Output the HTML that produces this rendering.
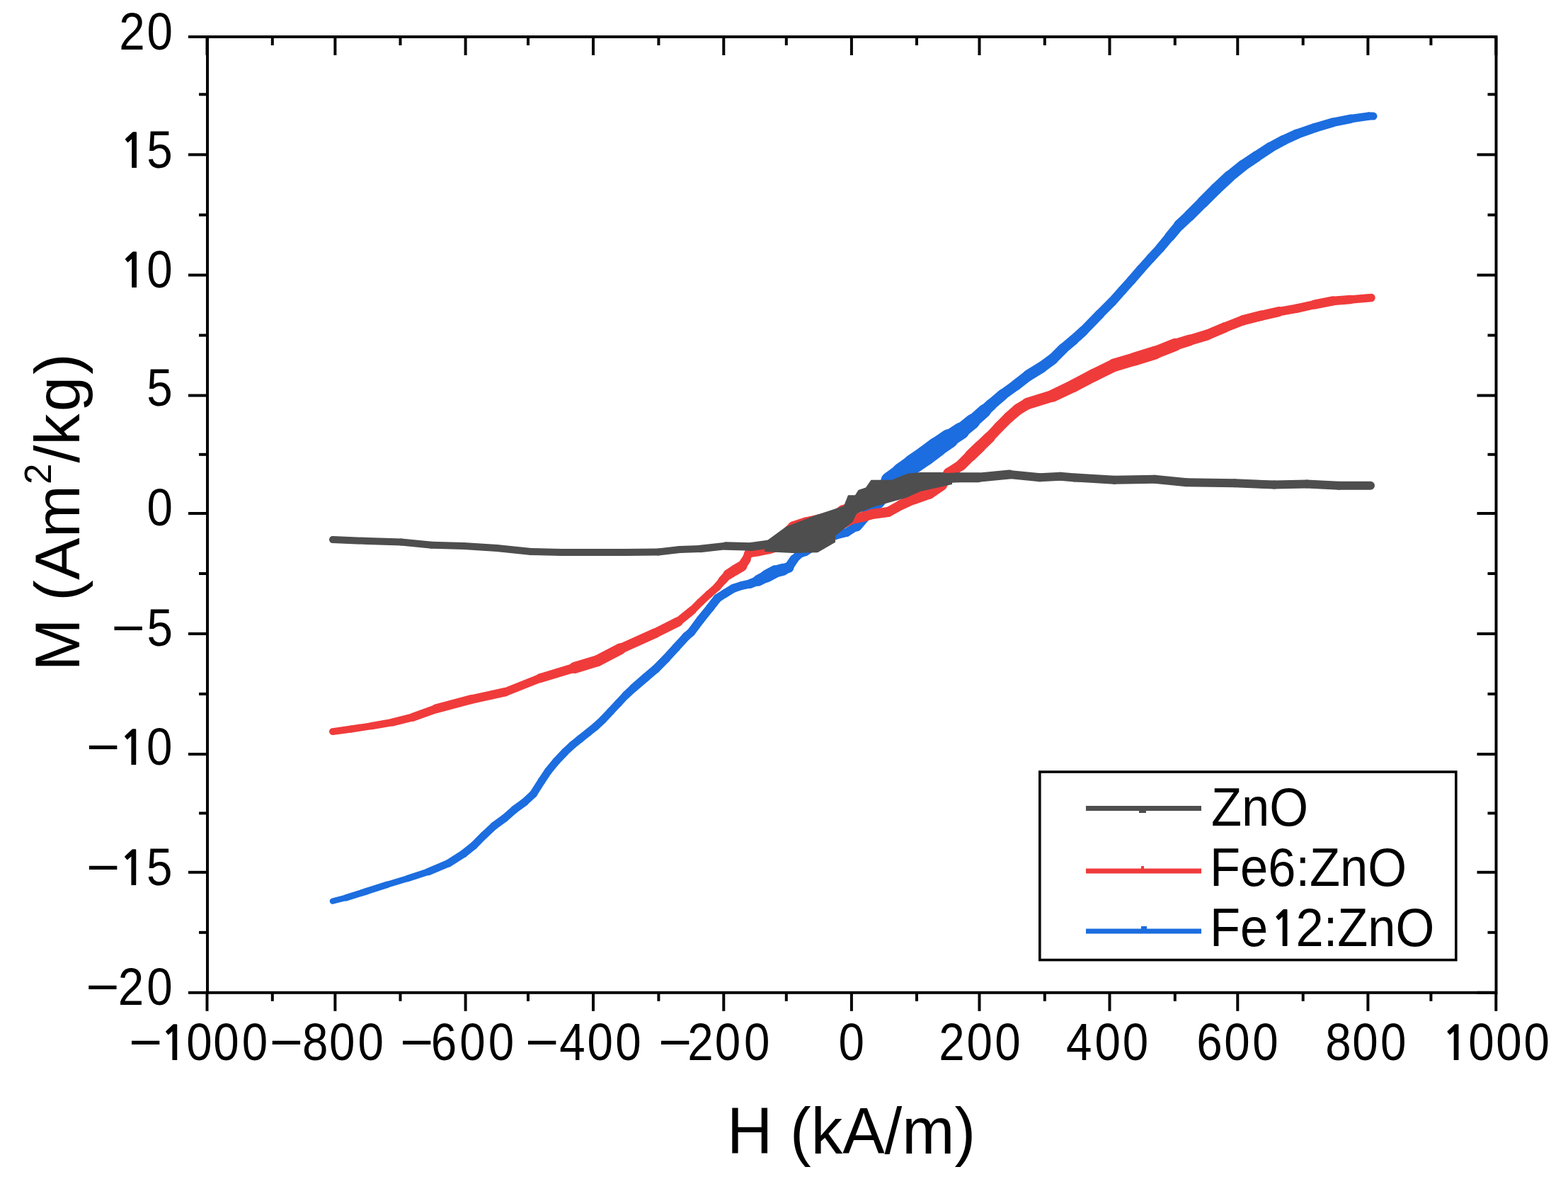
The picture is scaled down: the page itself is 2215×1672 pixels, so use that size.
<!DOCTYPE html>
<html><head><meta charset="utf-8"><title>M-H curves</title><style>html,body{margin:0;padding:0;background:#fff;}svg{display:block;}</style></head><body>
<svg xmlns="http://www.w3.org/2000/svg" width="2215" height="1672" viewBox="0 0 2215 1672">
<rect width="2215" height="1672" fill="#fff"/>
<g stroke="#1c6ddf" stroke-linecap="round" fill="none"><line x1="470.0" y1="1272.5" x2="489.0" y2="1267.7" stroke-width="8.5"/><line x1="489.0" y1="1267.7" x2="518.0" y2="1258.6" stroke-width="9.5"/><line x1="518.0" y1="1258.6" x2="547.0" y2="1249.2" stroke-width="9.5"/><line x1="547.0" y1="1249.2" x2="576.0" y2="1240.5" stroke-width="9.0"/><line x1="576.0" y1="1240.5" x2="605.0" y2="1231.1" stroke-width="9.5"/><line x1="605.0" y1="1231.1" x2="634.0" y2="1218.9" stroke-width="10.5"/><line x1="634.0" y1="1218.9" x2="654.8" y2="1205.6" stroke-width="11.0"/><line x1="654.8" y1="1205.6" x2="669.2" y2="1194.1" stroke-width="11.0"/><line x1="669.2" y1="1194.1" x2="683.5" y2="1179.7" stroke-width="11.0"/><line x1="683.5" y1="1179.7" x2="697.9" y2="1166.3" stroke-width="11.0"/><line x1="697.9" y1="1166.3" x2="712.3" y2="1155.8" stroke-width="11.0"/><line x1="712.3" y1="1155.8" x2="726.6" y2="1143.3" stroke-width="11.0"/><line x1="726.6" y1="1143.3" x2="741.0" y2="1132.8" stroke-width="11.0"/><line x1="741.0" y1="1132.8" x2="753.4" y2="1121.3" stroke-width="11.0"/><line x1="753.4" y1="1121.3" x2="764.9" y2="1103.1" stroke-width="11.0"/><line x1="764.9" y1="1103.1" x2="774.5" y2="1088.7" stroke-width="11.0"/><line x1="774.5" y1="1088.7" x2="785.8" y2="1075.0" stroke-width="11.0"/><line x1="785.8" y1="1075.0" x2="798.0" y2="1062.1" stroke-width="11.0"/><line x1="798.0" y1="1062.1" x2="808.8" y2="1052.0" stroke-width="11.0"/><line x1="808.8" y1="1052.0" x2="819.5" y2="1043.4" stroke-width="11.0"/><line x1="819.5" y1="1043.4" x2="830.3" y2="1034.8" stroke-width="11.0"/><line x1="830.3" y1="1034.8" x2="841.1" y2="1026.1" stroke-width="11.0"/><line x1="841.1" y1="1026.1" x2="851.9" y2="1016.1" stroke-width="11.0"/><line x1="851.9" y1="1016.1" x2="862.7" y2="1004.6" stroke-width="11.0"/><line x1="862.7" y1="1004.6" x2="873.5" y2="993.1" stroke-width="11.0"/><line x1="873.5" y1="993.1" x2="884.2" y2="981.6" stroke-width="11.0"/><line x1="884.2" y1="981.6" x2="895.0" y2="971.5" stroke-width="11.5"/><line x1="895.0" y1="971.5" x2="911.9" y2="956.9" stroke-width="12.0"/><line x1="911.9" y1="956.9" x2="926.3" y2="944.7" stroke-width="12.0"/><line x1="926.3" y1="944.7" x2="940.6" y2="930.3" stroke-width="12.0"/><line x1="940.6" y1="930.3" x2="955.0" y2="914.5" stroke-width="12.0"/><line x1="955.0" y1="914.5" x2="969.4" y2="898.7" stroke-width="12.0"/><line x1="969.4" y1="898.7" x2="976.2" y2="893.0" stroke-width="12.0"/><line x1="976.2" y1="893.0" x2="989.5" y2="875.1" stroke-width="12.0"/><line x1="989.5" y1="875.1" x2="1002.7" y2="858.8" stroke-width="12.0"/><line x1="1002.7" y1="858.8" x2="1013.6" y2="844.8" stroke-width="12.0"/><line x1="1013.6" y1="844.8" x2="1024.5" y2="837.8" stroke-width="12.0"/><line x1="1024.5" y1="837.8" x2="1036.2" y2="830.7" stroke-width="12.0"/><line x1="1036.2" y1="830.7" x2="1047.9" y2="826.9" stroke-width="12.0"/><line x1="1047.9" y1="826.9" x2="1059.6" y2="824.5" stroke-width="12.0"/><line x1="1059.6" y1="824.5" x2="1071.2" y2="819.8" stroke-width="13.0"/><line x1="1071.2" y1="819.8" x2="1082.9" y2="813.6" stroke-width="16.0"/><line x1="1082.9" y1="813.6" x2="1094.6" y2="807.4" stroke-width="18.0"/><line x1="1094.6" y1="807.4" x2="1106.3" y2="804.3" stroke-width="17.0"/><line x1="1106.3" y1="804.3" x2="1114.1" y2="801.2" stroke-width="15.0"/><line x1="1114.1" y1="801.2" x2="1121.9" y2="789.5" stroke-width="13.0"/><line x1="1121.9" y1="789.5" x2="1130.0" y2="781.7" stroke-width="12.0"/><line x1="1130.0" y1="781.7" x2="1138.0" y2="779.0" stroke-width="12.0"/><line x1="1138.0" y1="779.0" x2="1158.0" y2="766.0" stroke-width="12.0"/><line x1="1158.0" y1="766.0" x2="1180.0" y2="756.0" stroke-width="12.0"/><line x1="1180.0" y1="756.0" x2="1196.0" y2="752.0" stroke-width="12.0"/><line x1="1196.0" y1="752.0" x2="1210.0" y2="743.0" stroke-width="12.0"/><line x1="1210.0" y1="743.0" x2="1240.0" y2="708.0" stroke-width="15.0"/><line x1="1240.0" y1="708.0" x2="1256.8" y2="679.0" stroke-width="21.0"/><line x1="1256.8" y1="679.0" x2="1273.5" y2="667.0" stroke-width="25.0"/><line x1="1273.5" y1="667.0" x2="1290.3" y2="655.0" stroke-width="27.0"/><line x1="1290.3" y1="655.0" x2="1307.1" y2="643.5" stroke-width="28.0"/><line x1="1307.1" y1="643.5" x2="1323.8" y2="631.0" stroke-width="28.0"/><line x1="1323.8" y1="631.0" x2="1340.6" y2="619.5" stroke-width="27.0"/><line x1="1340.6" y1="619.5" x2="1357.4" y2="608.5" stroke-width="24.0"/><line x1="1357.4" y1="608.5" x2="1374.1" y2="595.0" stroke-width="21.0"/><line x1="1374.1" y1="595.0" x2="1390.9" y2="580.0" stroke-width="18.5"/><line x1="1390.9" y1="580.0" x2="1400.0" y2="571.5" stroke-width="16.5"/><line x1="1400.0" y1="571.5" x2="1416.9" y2="557.0" stroke-width="15.5"/><line x1="1416.9" y1="557.0" x2="1434.9" y2="544.0" stroke-width="15.0"/><line x1="1434.9" y1="544.0" x2="1452.9" y2="530.0" stroke-width="15.5"/><line x1="1452.9" y1="530.0" x2="1470.8" y2="519.0" stroke-width="16.0"/><line x1="1470.8" y1="519.0" x2="1487.2" y2="507.0" stroke-width="15.5"/><line x1="1487.2" y1="507.0" x2="1501.7" y2="492.5" stroke-width="15.0"/><line x1="1501.7" y1="492.5" x2="1516.2" y2="480.3" stroke-width="14.5"/><line x1="1516.2" y1="480.3" x2="1530.6" y2="467.2" stroke-width="14.0"/><line x1="1530.6" y1="467.2" x2="1553.5" y2="443.7" stroke-width="13.5"/><line x1="1553.5" y1="443.7" x2="1571.4" y2="425.7" stroke-width="13.0"/><line x1="1571.4" y1="425.7" x2="1584.9" y2="410.5" stroke-width="13.0"/><line x1="1584.9" y1="410.5" x2="1598.4" y2="395.5" stroke-width="13.0"/><line x1="1598.4" y1="395.5" x2="1611.8" y2="380.0" stroke-width="13.0"/><line x1="1611.8" y1="380.0" x2="1625.3" y2="365.0" stroke-width="13.0"/><line x1="1625.3" y1="365.0" x2="1638.8" y2="350.3" stroke-width="13.0"/><line x1="1638.8" y1="350.3" x2="1652.3" y2="334.1" stroke-width="13.5"/><line x1="1652.3" y1="334.1" x2="1665.7" y2="318.0" stroke-width="14.5"/><line x1="1665.7" y1="318.0" x2="1680.0" y2="304.6" stroke-width="15.5"/><line x1="1680.0" y1="304.6" x2="1699.0" y2="285.6" stroke-width="16.0"/><line x1="1699.0" y1="285.6" x2="1718.0" y2="266.6" stroke-width="16.5"/><line x1="1718.0" y1="266.6" x2="1737.0" y2="248.9" stroke-width="16.5"/><line x1="1737.0" y1="248.9" x2="1755.9" y2="233.7" stroke-width="16.0"/><line x1="1755.9" y1="233.7" x2="1774.9" y2="221.0" stroke-width="15.5"/><line x1="1774.9" y1="221.0" x2="1793.9" y2="208.4" stroke-width="15.0"/><line x1="1793.9" y1="208.4" x2="1812.9" y2="198.2" stroke-width="14.5"/><line x1="1812.9" y1="198.2" x2="1831.9" y2="189.4" stroke-width="14.0"/><line x1="1831.9" y1="189.4" x2="1857.2" y2="180.5" stroke-width="13.5"/><line x1="1857.2" y1="180.5" x2="1882.5" y2="172.9" stroke-width="13.0"/><line x1="1882.5" y1="172.9" x2="1907.8" y2="167.8" stroke-width="12.5"/><line x1="1907.8" y1="167.8" x2="1933.2" y2="164.1" stroke-width="11.5"/><line x1="1933.2" y1="164.1" x2="1940.0" y2="164.1" stroke-width="11.0"/></g>
<g stroke="#f03b3b" stroke-linecap="round" fill="none"><line x1="1090.0" y1="775.0" x2="1150.0" y2="755.0" stroke-width="12.5"/><line x1="1150.0" y1="755.0" x2="1180.0" y2="745.0" stroke-width="13.0"/><line x1="1180.0" y1="745.0" x2="1204.5" y2="733.0" stroke-width="13.5"/><line x1="1204.5" y1="733.0" x2="1218.8" y2="730.0" stroke-width="14.0"/><line x1="1218.8" y1="730.0" x2="1232.3" y2="726.0" stroke-width="14.0"/><line x1="1232.3" y1="726.0" x2="1254.8" y2="723.0" stroke-width="14.0"/><line x1="1254.8" y1="723.0" x2="1272.7" y2="713.0" stroke-width="14.0"/><line x1="1272.7" y1="713.0" x2="1290.0" y2="705.0" stroke-width="14.5"/><line x1="1290.0" y1="705.0" x2="1312.5" y2="697.0" stroke-width="15.5"/><line x1="1312.5" y1="697.0" x2="1330.0" y2="685.0" stroke-width="16.0"/><line x1="1330.0" y1="685.0" x2="1340.3" y2="668.0" stroke-width="15.5"/><line x1="1340.3" y1="668.0" x2="1357.4" y2="657.0" stroke-width="15.0"/><line x1="1357.4" y1="657.0" x2="1370.8" y2="643.5" stroke-width="15.5"/><line x1="1370.8" y1="643.5" x2="1384.3" y2="630.5" stroke-width="16.5"/><line x1="1384.3" y1="630.5" x2="1397.8" y2="617.5" stroke-width="16.0"/><line x1="1397.8" y1="617.5" x2="1411.2" y2="603.1" stroke-width="15.0"/><line x1="1411.2" y1="603.1" x2="1424.7" y2="589.6" stroke-width="15.0"/><line x1="1424.7" y1="589.6" x2="1438.2" y2="578.0" stroke-width="15.5"/><line x1="1438.2" y1="578.0" x2="1451.7" y2="569.9" stroke-width="16.0"/><line x1="1451.7" y1="569.9" x2="1487.2" y2="558.8" stroke-width="16.5"/><line x1="1487.2" y1="558.8" x2="1516.2" y2="545.0" stroke-width="17.5"/><line x1="1516.2" y1="545.0" x2="1545.1" y2="529.8" stroke-width="18.0"/><line x1="1545.1" y1="529.8" x2="1574.0" y2="515.7" stroke-width="18.0"/><line x1="1574.0" y1="515.7" x2="1603.0" y2="507.0" stroke-width="18.5"/><line x1="1603.0" y1="507.0" x2="1631.9" y2="498.0" stroke-width="19.0"/><line x1="1631.9" y1="498.0" x2="1660.5" y2="486.7" stroke-width="18.0"/><line x1="1660.5" y1="486.7" x2="1680.0" y2="480.6" stroke-width="16.0"/><line x1="1680.0" y1="480.6" x2="1705.3" y2="473.0" stroke-width="15.0"/><line x1="1705.3" y1="473.0" x2="1730.6" y2="462.3" stroke-width="14.5"/><line x1="1730.6" y1="462.3" x2="1755.9" y2="452.2" stroke-width="14.0"/><line x1="1755.9" y1="452.2" x2="1781.3" y2="445.8" stroke-width="14.5"/><line x1="1781.3" y1="445.8" x2="1806.6" y2="440.1" stroke-width="14.0"/><line x1="1806.6" y1="440.1" x2="1831.9" y2="435.7" stroke-width="12.5"/><line x1="1831.9" y1="435.7" x2="1857.2" y2="430.0" stroke-width="12.5"/><line x1="1857.2" y1="430.0" x2="1882.5" y2="425.0" stroke-width="13.5"/><line x1="1882.5" y1="425.0" x2="1907.8" y2="423.0" stroke-width="12.5"/><line x1="1907.8" y1="423.0" x2="1937.0" y2="420.5" stroke-width="11.5"/></g>
<g stroke="#f03b3b" stroke-linecap="round" fill="none"><line x1="470.0" y1="1033.1" x2="496.2" y2="1029.5" stroke-width="10.0"/><line x1="496.2" y1="1029.5" x2="525.1" y2="1025.1" stroke-width="10.0"/><line x1="525.1" y1="1025.1" x2="554.0" y2="1020.1" stroke-width="10.5"/><line x1="554.0" y1="1020.1" x2="583.0" y2="1012.8" stroke-width="11.0"/><line x1="583.0" y1="1012.8" x2="616.3" y2="1000.8" stroke-width="12.0"/><line x1="616.3" y1="1000.8" x2="665.1" y2="987.8" stroke-width="13.0"/><line x1="665.1" y1="987.8" x2="713.9" y2="977.2" stroke-width="12.5"/><line x1="713.9" y1="977.2" x2="762.8" y2="957.7" stroke-width="12.0"/><line x1="762.8" y1="957.7" x2="811.6" y2="943.0" stroke-width="13.0"/><line x1="811.6" y1="943.0" x2="844.1" y2="933.2" stroke-width="16.0"/><line x1="844.1" y1="933.2" x2="876.7" y2="916.2" stroke-width="16.0"/><line x1="876.7" y1="916.2" x2="925.5" y2="894.2" stroke-width="14.0"/><line x1="925.5" y1="894.2" x2="958.1" y2="877.9" stroke-width="13.5"/><line x1="958.1" y1="877.9" x2="977.8" y2="861.9" stroke-width="12.0"/><line x1="977.8" y1="861.9" x2="989.5" y2="850.2" stroke-width="11.0"/><line x1="989.5" y1="850.2" x2="1001.2" y2="839.3" stroke-width="11.0"/><line x1="1001.2" y1="839.3" x2="1012.8" y2="829.2" stroke-width="11.0"/><line x1="1012.8" y1="829.2" x2="1020.6" y2="819.8" stroke-width="11.5"/><line x1="1020.6" y1="819.8" x2="1028.4" y2="811.3" stroke-width="12.5"/><line x1="1028.4" y1="811.3" x2="1038.5" y2="805.0" stroke-width="14.5"/><line x1="1038.5" y1="805.0" x2="1047.9" y2="799.6" stroke-width="15.0"/><line x1="1047.9" y1="799.6" x2="1054.1" y2="790.2" stroke-width="13.0"/><line x1="1054.1" y1="790.2" x2="1057.2" y2="781.7" stroke-width="12.0"/><line x1="1057.2" y1="781.7" x2="1071.2" y2="779.3" stroke-width="12.0"/><line x1="1071.2" y1="779.3" x2="1086.8" y2="776.2" stroke-width="12.0"/><line x1="1086.8" y1="776.2" x2="1095.0" y2="772.0" stroke-width="12.0"/><line x1="1095.0" y1="772.0" x2="1105.0" y2="758.0" stroke-width="12.5"/><line x1="1105.0" y1="758.0" x2="1120.0" y2="743.0" stroke-width="13.0"/><line x1="1120.0" y1="743.0" x2="1138.0" y2="737.0" stroke-width="13.0"/><line x1="1138.0" y1="737.0" x2="1156.0" y2="733.0" stroke-width="13.0"/><line x1="1156.0" y1="733.0" x2="1177.5" y2="729.0" stroke-width="13.0"/><line x1="1177.5" y1="729.0" x2="1190.0" y2="720.0" stroke-width="13.0"/><line x1="1190.0" y1="720.0" x2="1215.0" y2="712.0" stroke-width="13.0"/></g>
<g stroke="#4e4e4e" stroke-linecap="round" fill="none"><line x1="470.0" y1="762.0" x2="519.0" y2="764.0" stroke-width="10.0"/><line x1="519.0" y1="764.0" x2="567.0" y2="765.5" stroke-width="10.0"/><line x1="567.0" y1="765.5" x2="610.0" y2="769.7" stroke-width="10.0"/><line x1="610.0" y1="769.7" x2="655.0" y2="771.0" stroke-width="10.0"/><line x1="655.0" y1="771.0" x2="702.0" y2="774.0" stroke-width="10.0"/><line x1="702.0" y1="774.0" x2="750.0" y2="779.0" stroke-width="10.0"/><line x1="750.0" y1="779.0" x2="793.0" y2="780.0" stroke-width="10.0"/><line x1="793.0" y1="780.0" x2="838.0" y2="780.0" stroke-width="10.0"/><line x1="838.0" y1="780.0" x2="883.0" y2="780.0" stroke-width="10.0"/><line x1="883.0" y1="780.0" x2="930.0" y2="779.5" stroke-width="10.0"/><line x1="930.0" y1="779.5" x2="960.0" y2="776.0" stroke-width="10.0"/><line x1="960.0" y1="776.0" x2="989.0" y2="775.0" stroke-width="10.0"/><line x1="989.0" y1="775.0" x2="1025.0" y2="771.0" stroke-width="10.5"/><line x1="1025.0" y1="771.0" x2="1061.0" y2="772.0" stroke-width="11.5"/><line x1="1061.0" y1="772.0" x2="1090.0" y2="768.0" stroke-width="12.0"/><line x1="1090.0" y1="768.0" x2="1120.0" y2="764.0" stroke-width="12.0"/></g>
<g stroke="#4e4e4e" stroke-linecap="round" fill="none"><line x1="1290.0" y1="678.0" x2="1325.0" y2="675.7" stroke-width="14.0"/><line x1="1325.0" y1="675.7" x2="1354.0" y2="674.3" stroke-width="14.0"/><line x1="1354.0" y1="674.3" x2="1382.0" y2="674.3" stroke-width="14.0"/><line x1="1382.0" y1="674.3" x2="1426.0" y2="670.0" stroke-width="13.0"/><line x1="1426.0" y1="670.0" x2="1469.0" y2="674.3" stroke-width="12.0"/><line x1="1469.0" y1="674.3" x2="1498.0" y2="672.8" stroke-width="12.0"/><line x1="1498.0" y1="672.8" x2="1518.0" y2="674.4" stroke-width="12.0"/><line x1="1518.0" y1="674.4" x2="1574.0" y2="677.8" stroke-width="12.0"/><line x1="1574.0" y1="677.8" x2="1631.0" y2="676.7" stroke-width="12.0"/><line x1="1631.0" y1="676.7" x2="1676.0" y2="681.2" stroke-width="12.0"/><line x1="1676.0" y1="681.2" x2="1744.0" y2="682.3" stroke-width="12.0"/><line x1="1744.0" y1="682.3" x2="1800.0" y2="684.6" stroke-width="12.0"/><line x1="1800.0" y1="684.6" x2="1846.0" y2="683.4" stroke-width="12.0"/><line x1="1846.0" y1="683.4" x2="1891.0" y2="685.7" stroke-width="12.0"/><line x1="1891.0" y1="685.7" x2="1936.0" y2="685.7" stroke-width="12.0"/></g>
<polygon fill="#4e4e4e" points="1080,766 1110,744 1151,728 1192,714.6 1198,699.3 1208,699.3 1212.5,692 1223,688.5 1230.5,677.7 1260,677.7 1282,668.8 1300,667 1330,667 1345,669 1345,684 1300,693.9 1280,702.9 1261,708.3 1232,716.4 1210,725.4 1204.5,737 1180,756.8 1180,765.8 1155,780.2 1120,781 1080,779"/>
<g stroke="#000" stroke-width="4.0" fill="none" stroke-linecap="square">
<rect x="293.0" y="52.0" width="1820.5" height="1349.8"/>
</g>
<g stroke="#000" stroke-width="4.0">
<line x1="292.5" y1="1401.8" x2="292.5" y2="1427.8"/>
<line x1="292.5" y1="52.0" x2="292.5" y2="78.0"/>
<line x1="384.8" y1="1401.8" x2="384.8" y2="1413.8"/>
<line x1="384.8" y1="52.0" x2="384.8" y2="64.0"/>
<line x1="473.4" y1="1401.8" x2="473.4" y2="1427.8"/>
<line x1="473.4" y1="52.0" x2="473.4" y2="78.0"/>
<line x1="565.5" y1="1401.8" x2="565.5" y2="1413.8"/>
<line x1="565.5" y1="52.0" x2="565.5" y2="64.0"/>
<line x1="657.6" y1="1401.8" x2="657.6" y2="1427.8"/>
<line x1="657.6" y1="52.0" x2="657.6" y2="78.0"/>
<line x1="746.0" y1="1401.8" x2="746.0" y2="1413.8"/>
<line x1="746.0" y1="52.0" x2="746.0" y2="64.0"/>
<line x1="838.0" y1="1401.8" x2="838.0" y2="1427.8"/>
<line x1="838.0" y1="52.0" x2="838.0" y2="78.0"/>
<line x1="930.4" y1="1401.8" x2="930.4" y2="1413.8"/>
<line x1="930.4" y1="52.0" x2="930.4" y2="64.0"/>
<line x1="1022.3" y1="1401.8" x2="1022.3" y2="1427.8"/>
<line x1="1022.3" y1="52.0" x2="1022.3" y2="78.0"/>
<line x1="1110.8" y1="1401.8" x2="1110.8" y2="1413.8"/>
<line x1="1110.8" y1="52.0" x2="1110.8" y2="64.0"/>
<line x1="1202.9" y1="1401.8" x2="1202.9" y2="1427.8"/>
<line x1="1202.9" y1="52.0" x2="1202.9" y2="78.0"/>
<line x1="1295.0" y1="1401.8" x2="1295.0" y2="1413.8"/>
<line x1="1295.0" y1="52.0" x2="1295.0" y2="64.0"/>
<line x1="1383.5" y1="1401.8" x2="1383.5" y2="1427.8"/>
<line x1="1383.5" y1="52.0" x2="1383.5" y2="78.0"/>
<line x1="1475.8" y1="1401.8" x2="1475.8" y2="1413.8"/>
<line x1="1475.8" y1="52.0" x2="1475.8" y2="64.0"/>
<line x1="1567.5" y1="1401.8" x2="1567.5" y2="1427.8"/>
<line x1="1567.5" y1="52.0" x2="1567.5" y2="78.0"/>
<line x1="1659.8" y1="1401.8" x2="1659.8" y2="1413.8"/>
<line x1="1659.8" y1="52.0" x2="1659.8" y2="64.0"/>
<line x1="1748.3" y1="1401.8" x2="1748.3" y2="1427.8"/>
<line x1="1748.3" y1="52.0" x2="1748.3" y2="78.0"/>
<line x1="1840.7" y1="1401.8" x2="1840.7" y2="1413.8"/>
<line x1="1840.7" y1="52.0" x2="1840.7" y2="64.0"/>
<line x1="1932.4" y1="1401.8" x2="1932.4" y2="1427.8"/>
<line x1="1932.4" y1="52.0" x2="1932.4" y2="78.0"/>
<line x1="2021.4" y1="1401.8" x2="2021.4" y2="1413.8"/>
<line x1="2021.4" y1="52.0" x2="2021.4" y2="64.0"/>
<line x1="2113.3" y1="1401.8" x2="2113.3" y2="1427.8"/>
<line x1="2113.3" y1="52.0" x2="2113.3" y2="78.0"/>
<line x1="293.0" y1="52.0" x2="266.0" y2="52.0"/>
<line x1="2113.5" y1="52.0" x2="2086.5" y2="52.0"/>
<line x1="293.0" y1="133.3" x2="281.0" y2="133.3"/>
<line x1="2113.5" y1="133.3" x2="2101.5" y2="133.3"/>
<line x1="293.0" y1="218.4" x2="266.0" y2="218.4"/>
<line x1="2113.5" y1="218.4" x2="2086.5" y2="218.4"/>
<line x1="293.0" y1="303.5" x2="281.0" y2="303.5"/>
<line x1="2113.5" y1="303.5" x2="2101.5" y2="303.5"/>
<line x1="293.0" y1="388.5" x2="266.0" y2="388.5"/>
<line x1="2113.5" y1="388.5" x2="2086.5" y2="388.5"/>
<line x1="293.0" y1="473.5" x2="281.0" y2="473.5"/>
<line x1="2113.5" y1="473.5" x2="2101.5" y2="473.5"/>
<line x1="293.0" y1="558.5" x2="266.0" y2="558.5"/>
<line x1="2113.5" y1="558.5" x2="2086.5" y2="558.5"/>
<line x1="293.0" y1="641.8" x2="281.0" y2="641.8"/>
<line x1="2113.5" y1="641.8" x2="2101.5" y2="641.8"/>
<line x1="293.0" y1="725.0" x2="266.0" y2="725.0"/>
<line x1="2113.5" y1="725.0" x2="2086.5" y2="725.0"/>
<line x1="293.0" y1="810.0" x2="281.0" y2="810.0"/>
<line x1="2113.5" y1="810.0" x2="2101.5" y2="810.0"/>
<line x1="293.0" y1="895.0" x2="266.0" y2="895.0"/>
<line x1="2113.5" y1="895.0" x2="2086.5" y2="895.0"/>
<line x1="293.0" y1="980.0" x2="281.0" y2="980.0"/>
<line x1="2113.5" y1="980.0" x2="2101.5" y2="980.0"/>
<line x1="293.0" y1="1065.0" x2="266.0" y2="1065.0"/>
<line x1="2113.5" y1="1065.0" x2="2086.5" y2="1065.0"/>
<line x1="293.0" y1="1148.4" x2="281.0" y2="1148.4"/>
<line x1="2113.5" y1="1148.4" x2="2101.5" y2="1148.4"/>
<line x1="293.0" y1="1231.8" x2="266.0" y2="1231.8"/>
<line x1="2113.5" y1="1231.8" x2="2086.5" y2="1231.8"/>
<line x1="293.0" y1="1316.8" x2="281.0" y2="1316.8"/>
<line x1="2113.5" y1="1316.8" x2="2101.5" y2="1316.8"/>
<line x1="293.0" y1="1401.8" x2="266.0" y2="1401.8"/>
<line x1="2113.5" y1="1401.8" x2="2086.5" y2="1401.8"/>
</g>
<g font-family='"Liberation Sans", Arial, sans-serif' font-size="70.5" fill="#000">
<text transform="matrix(0.93,0,0,1.05,0,0)" x="200.54 242.69" y="66.48" text-anchor="middle">20</text>
<text transform="matrix(0.93,0,0,1.05,0,0)" x="242.58" y="225.33" text-anchor="middle">5</text>
<text transform="matrix(1,0,0,1.05,0,0)" x="168.80" y="225.33" font-family="NanumGothic, 'Liberation Sans', sans-serif" font-weight="bold" font-size="64">1</text>
<text transform="matrix(0.93,0,0,1.05,0,0)" x="242.58" y="386.95" text-anchor="middle">0</text>
<text transform="matrix(1,0,0,1.05,0,0)" x="168.80" y="386.95" font-family="NanumGothic, 'Liberation Sans', sans-serif" font-weight="bold" font-size="64">1</text>
<text transform="matrix(0.93,0,0,1.05,0,0)" x="242.58" y="545.52" text-anchor="middle">5</text>
<text transform="matrix(0.93,0,0,1.05,0,0)" x="242.80" y="707.05" text-anchor="middle">0</text>
<text transform="matrix(0.93,0,0,1.05,0,0)" x="242.80" y="868.95" text-anchor="middle">5</text>
<text transform="translate(181.0,912.4) scale(1.15,1.05)" text-anchor="middle">&#8722;</text>
<text transform="matrix(0.93,0,0,1.05,0,0)" x="242.15" y="1028.19" text-anchor="middle">0</text>
<text transform="matrix(1,0,0,1.05,0,0)" x="168.10" y="1028.19" font-family="NanumGothic, 'Liberation Sans', sans-serif" font-weight="bold" font-size="64">1</text>
<text transform="translate(145.5,1079.6) scale(1.15,1.05)" text-anchor="middle">&#8722;</text>
<text transform="matrix(0.93,0,0,1.05,0,0)" x="242.15" y="1190.10" text-anchor="middle">5</text>
<text transform="matrix(1,0,0,1.05,0,0)" x="168.10" y="1190.10" font-family="NanumGothic, 'Liberation Sans', sans-serif" font-weight="bold" font-size="64">1</text>
<text transform="translate(145.5,1249.6) scale(1.15,1.05)" text-anchor="middle">&#8722;</text>
<text transform="matrix(0.93,0,0,1.05,0,0)" x="199.03 242.37" y="1351.81" text-anchor="middle">20</text>
<text transform="translate(144.6,1419.4) scale(1.15,1.05)" text-anchor="middle">&#8722;</text>
<text transform="matrix(0.93,0,0,1.05,0,0)" x="302.58 343.44 386.99" y="1425.71" text-anchor="middle">000</text>
<text transform="matrix(1,0,0,1.05,0,0)" x="225.90" y="1425.71" font-family="NanumGothic, 'Liberation Sans', sans-serif" font-weight="bold" font-size="64">1</text>
<text transform="translate(205.5,1497.0) scale(1.15,1.05)" text-anchor="middle">&#8722;</text>
<text transform="matrix(0.93,0,0,1.05,0,0)" x="478.82 519.68 563.23" y="1425.71" text-anchor="middle">800</text>
<text transform="translate(404.2,1497.0) scale(1.15,1.05)" text-anchor="middle">&#8722;</text>
<text transform="matrix(0.93,0,0,1.05,0,0)" x="674.19 717.74 761.29" y="1425.71" text-anchor="middle">600</text>
<text transform="translate(588.4,1497.0) scale(1.15,1.05)" text-anchor="middle">&#8722;</text>
<text transform="matrix(0.93,0,0,1.05,0,0)" x="869.35 911.51 954.41" y="1425.71" text-anchor="middle">400</text>
<text transform="translate(765.5,1497.0) scale(1.15,1.05)" text-anchor="middle">&#8722;</text>
<text transform="matrix(0.93,0,0,1.05,0,0)" x="1063.98 1105.48 1149.68" y="1425.71" text-anchor="middle">200</text>
<text transform="translate(953.4,1497.0) scale(1.15,1.05)" text-anchor="middle">&#8722;</text>
<text transform="matrix(0.93,0,0,1.05,0,0)" x="1293.33" y="1425.71" text-anchor="middle">0</text>
<text transform="matrix(0.93,0,0,1.05,0,0)" x="1445.70 1487.85 1530.65" y="1425.71" text-anchor="middle">200</text>
<text transform="matrix(0.93,0,0,1.05,0,0)" x="1638.92 1682.47 1724.62" y="1425.71" text-anchor="middle">400</text>
<text transform="matrix(0.93,0,0,1.05,0,0)" x="1836.99 1879.14 1921.94" y="1425.71" text-anchor="middle">600</text>
<text transform="matrix(0.93,0,0,1.05,0,0)" x="2032.80 2073.55 2116.45" y="1425.71" text-anchor="middle">800</text>
<text transform="matrix(0.93,0,0,1.05,0,0)" x="2249.89 2292.04 2334.19" y="1425.71" text-anchor="middle">000</text>
<text transform="matrix(1,0,0,1.05,0,0)" x="2036.20" y="1425.71" font-family="NanumGothic, 'Liberation Sans', sans-serif" font-weight="bold" font-size="64">1</text>
</g>
<text transform="matrix(1,0,0,1.04,0,0)" x="1027.1" y="1566.83" font-family='"Liberation Sans", Arial, sans-serif' font-size="89">H (kA/m)</text>
<text transform="translate(112.4,947.5) rotate(-90)" font-family='"Liberation Sans", Arial, sans-serif' font-size="89">M (A<tspan dx="0.5">m</tspan><tspan font-size="53" dy="-40" dx="1">2</tspan><tspan dy="40" dx="1">/</tspan><tspan>k</tspan><tspan dx="3">g</tspan><tspan dx="3">)</tspan></text>
<rect x="1468.8" y="1090" width="588.0000000000002" height="265.5999999999999" fill="#fff" stroke="#000" stroke-width="3.6"/>
<line x1="1534" y1="1141.4" x2="1697" y2="1141.4" stroke="#4e4e4e" stroke-width="7"/>
<text transform="matrix(1,0,0,1.08,0,0)" x="1711" y="1079.26" font-family='"Liberation Sans", Arial, sans-serif' font-size="70.5">ZnO</text>
<line x1="1534" y1="1229.9" x2="1697" y2="1229.9" stroke="#f03b3b" stroke-width="7"/>
<text transform="matrix(1,0,0,1.08,0,0)" x="1709" y="1157.96" font-family='"Liberation Sans", Arial, sans-serif' font-size="70.5">Fe6:ZnO</text>
<line x1="1534" y1="1314.9" x2="1697" y2="1314.9" stroke="#1c6ddf" stroke-width="7"/>
<text transform="matrix(1,0,0,1.08,0,0)" x="1709" y="1236.85" font-family='"Liberation Sans", Arial, sans-serif' font-size="70.5">Fe<tspan font-family="NanumGothic, sans-serif" font-weight="bold" font-size="64" dx="3">1</tspan><tspan dx="-2.6">2:ZnO</tspan></text>
<rect x="1609" y="1138" width="10" height="10" fill="#4e4e4e"/>
<rect x="1612" y="1223" width="4" height="6" fill="#f03b3b"/>
<rect x="1612" y="1308" width="8" height="6" fill="#1c6ddf"/>
</svg>
</body></html>
